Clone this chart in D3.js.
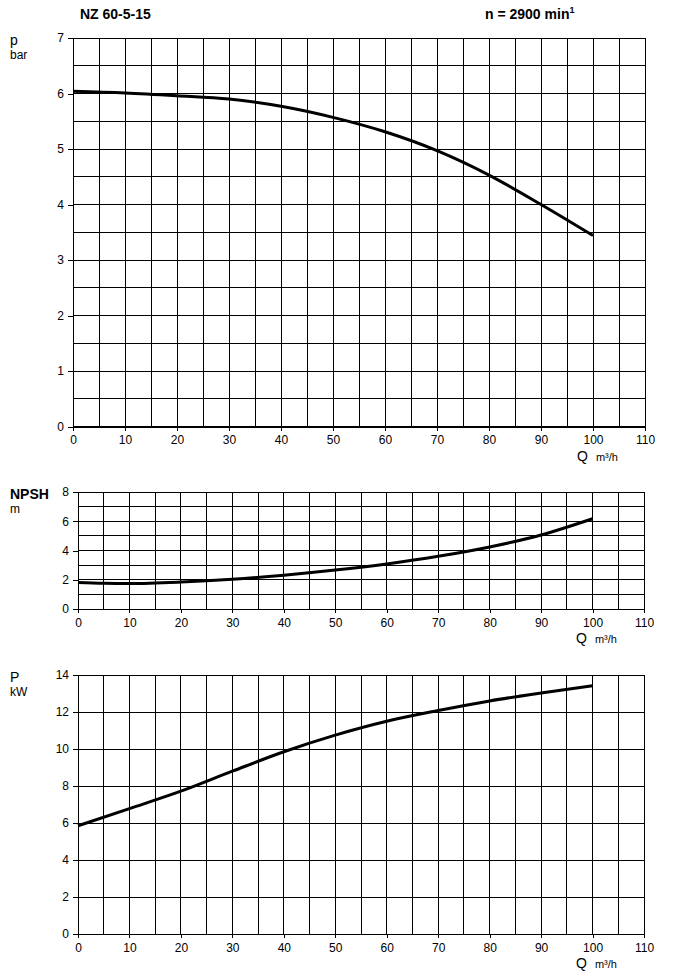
<!DOCTYPE html>
<html><head><meta charset="utf-8">
<script src="https://cdn.jsdelivr.net/npm/d3@7"></script>
<style>body{margin:0;background:#fff}svg{display:block;font-family:"Liberation Sans",Arial,sans-serif}</style>
</head><body>
<svg id="c" width="676" height="980"></svg>
<script>
const flowQ = [0,10,20,30,40,50,60,70,80,90,100];
const pressureBar = [6.04,6.01,5.96,5.90,5.77,5.57,5.31,4.97,4.53,4.00,3.44];
const npshQ = [0,5,10,20,30,40,50,60,70,80,90,100];
const npshM = [1.82,1.76,1.74,1.84,2.03,2.31,2.66,3.08,3.60,4.24,5.06,6.17];
const powerKW = [5.85,6.78,7.72,8.80,9.85,10.75,11.50,12.08,12.60,13.03,13.42];
const xTicks = [0,10,20,30,40,50,60,70,80,90,100,110];
const pTicks = [0,1,2,3,4,5,6,7];
const npshTicks = [0,2,4,6,8];
const powerTicks = [0,2,4,6,8,10,12,14];

const svg = d3.select("#c");

svg.append("text").attr("x",80).attr("y",19).attr("font-size",14).attr("font-weight","bold").text("NZ 60-5-15");
const t2 = svg.append("text").attr("x",485).attr("y",19).attr("font-size",14).attr("font-weight","bold");
t2.append("tspan").text("n = 2900 min");
t2.append("tspan").attr("font-size",9).attr("dy",-6).text("1");

function panel(o){
  const x = d3.scaleLinear().domain([0,110]).range([o.left,o.right]);
  const y = d3.scaleLinear().domain([0,o.ymax]).range([o.bottom,o.top]);
  const g = svg.append("g");
  const vx = d3.range(0,111,5);
  g.selectAll(".v").data(vx).join("line")
    .attr("x1",d=>x(d)).attr("x2",d=>x(d)).attr("y1",o.top).attr("y2",o.bottom)
    .attr("stroke","#000").attr("stroke-width",1).attr("shape-rendering","crispEdges");
  const hy = d3.range(0,o.ymax+1e-9,o.gridStep);
  g.selectAll(".h").data(hy).join("line")
    .attr("x1",o.left).attr("x2",o.right).attr("y1",d=>y(d)).attr("y2",d=>y(d))
    .attr("stroke","#000").attr("stroke-width",1).attr("shape-rendering","crispEdges");
  const ax = g.append("g").attr("transform",`translate(0,${o.bottom})`)
    .call(d3.axisBottom(x).tickValues(xTicks).tickFormat(d3.format("d")).tickSize(4).tickPadding(5).tickSizeOuter(0));
  const ay = g.append("g").attr("transform",`translate(${o.left},0)`)
    .call(d3.axisLeft(y).tickValues(o.yticks).tickFormat(d3.format("d")).tickSize(5).tickPadding(4).tickSizeOuter(0));
  [ax,ay].forEach(a=>{
    a.select(".domain").attr("stroke","#000").attr("shape-rendering","crispEdges");
    a.selectAll("line").attr("stroke","#000").attr("shape-rendering","crispEdges");
    a.selectAll("text").attr("font-size",12).attr("fill","#000").attr("font-family","Liberation Sans, Arial, sans-serif");
  });
  const line = d3.line().x(d=>x(d[0])).y(d=>y(d[1])).curve(d3.curveMonotoneX);
  g.append("path").datum(o.qs.map((q,i)=>[q,o.vals[i]]))
    .attr("d",line).attr("fill","none").attr("stroke","#000").attr("stroke-width",3);
  g.append("text").attr("x",10).attr("y",o.top+7).attr("font-size",14)
    .attr("font-weight",o.bold?"bold":"normal").text(o.label);
  g.append("text").attr("x",10).attr("y",o.top+21).attr("font-size",12).text(o.unit);
  const q = g.append("text").attr("x",o.right-68).attr("y",o.bottom+34);
  q.append("tspan").attr("font-size",14).text("Q");
  q.append("tspan").attr("font-size",11).attr("dx",8).text("m³/h");
}

panel({left:73,right:645,top:38,bottom:426.5,ymax:7,gridStep:0.5,yticks:pTicks,
  qs:flowQ,vals:pressureBar,label:"p",unit:"bar"});
panel({left:78,right:644,top:492,bottom:609,ymax:8,gridStep:1,yticks:npshTicks,
  qs:npshQ,vals:npshM,label:"NPSH",unit:"m",bold:true});
panel({left:78,right:644,top:675,bottom:934,ymax:14,gridStep:2,yticks:powerTicks,
  qs:flowQ,vals:powerKW,label:"P",unit:"kW"});
</script>
</body></html>
